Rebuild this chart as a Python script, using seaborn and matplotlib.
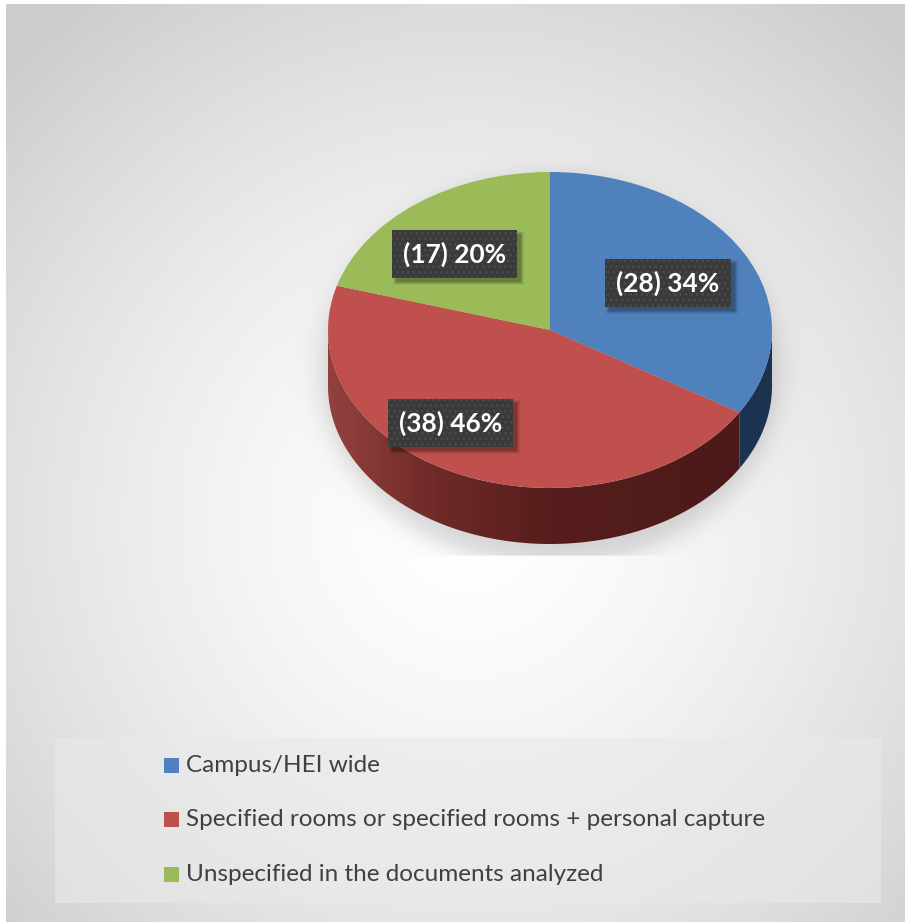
import numpy as np
import pandas as pd
import seaborn as sns
import matplotlib
matplotlib.use("Agg")
import matplotlib.pyplot as plt
from matplotlib.patches import Polygon, Rectangle
from matplotlib.colors import LinearSegmentedColormap

# ---------------- data ----------------
categories = ["Campus/HEI wide",
              "Specified rooms or specified rooms + personal capture",
              "Unspecified in the documents analyzed"]
counts = [28, 38, 17]
top_colors = ["#4F81BD", "#C0504D", "#9BBB59"]

df = pd.DataFrame({"category": categories, "count": counts})
df["pct"] = (100 * df["count"] / df["count"].sum()).round().astype(int)
df["label"] = [f"({c}) {p}%" for c, p in zip(df["count"], df["pct"])]

# ---------------- style ----------------
sns.set_theme(style="white")
plt.rcParams["font.family"] = ["Lato", "DejaVu Sans"]

W, H = 905, 922
fig = plt.figure(figsize=(W / 100, H / 100), dpi=100)
fig.patch.set_facecolor("white")

# background axes in pixel coordinates
bg = fig.add_axes([0, 0, 1, 1])
bg.set_xlim(0, W)
bg.set_ylim(H, 0)
bg.axis("off")

# pie geometry (pixels)
CX, CY, RX, RY, DEPTH = 550, 330, 222, 158, 56

yy, xx = np.mgrid[0:H, 0:W] + 0.5
dist = np.hypot(xx - 470, yy - 520)
val = 1 - 0.2 * np.clip(dist / 650, 0, 1) ** 1.5
# soft drop shadow under the pie
r_sh = np.hypot((xx - CX) / (RX + 6), (yy - (CY + DEPTH / 2 + 14)) / (RY + DEPTH / 2 + 8))
shadow = 0.16 / (1 + np.exp((r_sh - 1) / 0.035))
shadow[yy > 556] = 0
val = val * (1 - shadow)
val[:5, :] = 1
val[:, :6] = 1
img = np.dstack([val, val, val])
bg.imshow(img, extent=(0, W, H, 0), interpolation="bilinear", zorder=0, aspect="auto")

# ---------------- legend box ----------------
bg.add_patch(Rectangle((55, 738), 826, 165, facecolor="#e9e9e9", alpha=0.6,
                       edgecolor="none", zorder=1))
leg_y = [765, 819.5, 874]
leg_texts = []
for cat, col, y in zip(df["category"], top_colors, leg_y):
    bg.add_patch(Rectangle((164, y - 7.5), 15, 15, facecolor=col, edgecolor="none", zorder=2))
    t = bg.text(186, y, cat, fontsize=16, color="#404040", va="center", ha="left", zorder=3)
    leg_texts.append(t)

# ---------------- pie ----------------
pax = fig.add_axes([0, 0, 1, 1])
pax.patch.set_alpha(0)
wedges, _ = pax.pie(df["count"], colors=top_colors, startangle=90, counterclock=False,
                    radius=1, wedgeprops=dict(linewidth=0, zorder=4))
d = DEPTH / RY

side_cmaps = [
    LinearSegmentedColormap.from_list("b", ["#2A4A70", "#1F3A5A", "#1B3350"]),
    LinearSegmentedColormap.from_list("r", [(0, "#94413E"), (0.25, "#6E2927"),
                                            (0.5, "#561E1C"), (1, "#4A1918")]),
    LinearSegmentedColormap.from_list("g", ["#6E8A3A", "#55702A"]),
]
for w, cmap in zip(wedges, side_cmaps):
    a, b = w.theta1, w.theta2
    lo, hi = max(a, -180), min(b, 0)
    if hi <= lo:
        continue
    t = np.radians(np.linspace(lo, hi, 300))
    top = np.column_stack([np.cos(t), np.sin(t)])
    bot = np.column_stack([np.cos(t), np.sin(t) - d])[::-1]
    poly = Polygon(np.vstack([top, bot]), closed=True, facecolor="none",
                   edgecolor="none", zorder=2)
    pax.add_patch(poly)
    grad = np.linspace(0, 1, 256)[None, :]
    im = pax.imshow(grad, extent=(-1, 1, -1 - d, 0), cmap=cmap, aspect="auto",
                    interpolation="bilinear", zorder=2)
    im.set_clip_path(poly)

pax.set_xlim((0 - CX) / RX, (W - CX) / RX)
pax.set_ylim((CY - H) / RY, CY / RY)
pax.set_aspect("auto")
pax.axis("off")

# ---------------- data labels ----------------
label_r = [0.61, 0.74, 0.645]
label_shift = [0, -13.4, 5]
lab_texts = []
for w, lab, r, sh in zip(wedges, df["label"], label_r, label_shift):
    mid = np.radians((w.theta1 + w.theta2) / 2 + sh)
    x, y = r * np.cos(mid), r * np.sin(mid)
    t = pax.text(x, y, lab, fontsize=18, fontweight="bold", color="white",
                 ha="center", va="center", zorder=6,
                 bbox=dict(boxstyle="square,pad=0.42", facecolor="#3A3A3A",
                           edgecolor="#4C4C4C", linewidth=0, hatch="..."))
    lab_texts.append(t)

# auto-fit font sizes to match reference text widths
fig.canvas.draw()
rend = fig.canvas.get_renderer()
wl = leg_texts[1].get_window_extent(rend).width
for t in leg_texts:
    t.set_fontsize(16 * 581 / wl)
tmp = pax.text(0, 0, df["label"][2], fontsize=18, fontweight="bold")
wt = tmp.get_window_extent(rend).width
tmp.remove()
for t in lab_texts:
    t.set_fontsize(18 * 103 / wt)

# soft shadows behind the label boxes
fig.canvas.draw()
rend = fig.canvas.get_renderer()
for t in lab_texts:
    ext = t.get_bbox_patch().get_window_extent(rend)
    x0, x1 = ext.x0, ext.x1
    y0, y1 = H - ext.y1, H - ext.y0  # to pixel coords (y down)
    for grow, alpha in [(3, 0.06), (2, 0.08), (1, 0.1), (0, 0.14)]:
        pax.add_patch(Rectangle(((x0 + 4 - grow - CX) / RX, (CY - (y1 + 4 + grow)) / RY),
                                (x1 - x0 + 2 * grow) / RX, (y1 - y0 + 2 * grow) / RY,
                                facecolor="black", alpha=alpha, edgecolor="none",
                                zorder=5))

fig.savefig("out.png", dpi=100, facecolor=fig.get_facecolor())
